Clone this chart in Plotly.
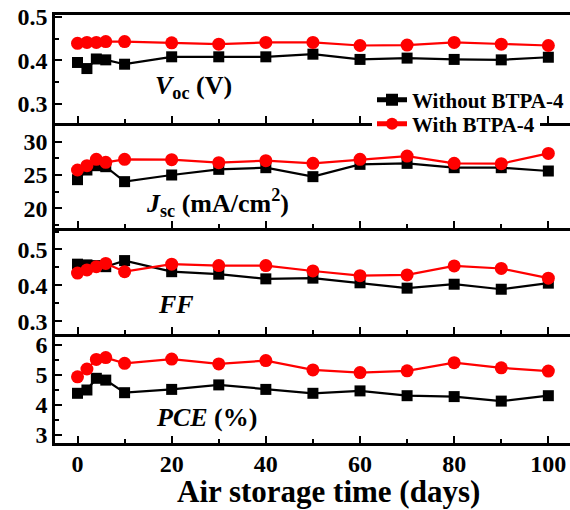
import plotly.graph_objects as go

days = [0, 2, 4, 6, 10, 20, 30, 40, 50, 60, 70, 80, 90, 100]

voc_without = [0.395, 0.381, 0.403, 0.401, 0.391, 0.408, 0.408, 0.408, 0.414, 0.402, 0.405, 0.402, 0.401, 0.407]
voc_with = [0.439, 0.441, 0.441, 0.443, 0.443, 0.440, 0.437, 0.441, 0.441, 0.434, 0.435, 0.441, 0.437, 0.434]

jsc_without = [24.3, 25.75, 26.4, 26.25, 24.0, 25.0, 25.85, 26.1, 24.75, 26.6, 26.75, 26.1, 26.1, 25.6]
jsc_with = [25.75, 26.4, 27.35, 26.9, 27.35, 27.3, 26.85, 27.15, 26.75, 27.35, 27.85, 26.75, 26.7, 28.25]

ff_without = [0.459, 0.457, 0.455, 0.452, 0.469, 0.438, 0.431, 0.418, 0.420, 0.407, 0.392, 0.403, 0.389, 0.406]
ff_with = [0.434, 0.443, 0.452, 0.461, 0.438, 0.459, 0.455, 0.455, 0.440, 0.427, 0.429, 0.454, 0.447, 0.420]

pce_without = [4.39, 4.50, 4.89, 4.83, 4.41, 4.52, 4.67, 4.52, 4.39, 4.47, 4.31, 4.28, 4.13, 4.31]
pce_with = [4.94, 5.20, 5.52, 5.58, 5.39, 5.53, 5.37, 5.48, 5.17, 5.08, 5.14, 5.41, 5.24, 5.13]

series_names = ["Without BTPA-4", "With BTPA-4"]
panel_labels = ["<i>V</i><sub>oc</sub> (V)", "<i>J</i><sub>sc</sub> (mA/cm<sup>2</sup>)", "<i>FF</i>", "<i>PCE</i> (%)"]
x_title = "Air storage time (days)"

FONT = "Liberation Serif"
W, H = 570, 510
ML, MR, MT, MB = 55, 0, 15, 67
plot_h = H - MT - MB
bounds_px = [15, 123, 228, 334, 443]

def dom(top_px, bot_px):
    return [(443 - bot_px) / plot_h, (443 - top_px) / plot_h]

def ypaper(px):
    return (443 - px) / plot_h

def xpaper(px):
    return (px - ML) / (W - ML - MR)

panels = [
    (voc_without, voc_with, [0.256, 0.504], 0.1, 0.05),
    (jsc_without, jsc_with, [17.03, 32.82], 5, 2.5),
    (ff_without, ff_with, [0.264, 0.560], 0.1, 0.05),
    (pce_without, pce_with, [2.733, 6.367], 1, 0.5),
]

fig = go.Figure()
layout = {}
for i, (bw, rw, yr, dt, mdt) in enumerate(panels):
    n = "" if i == 0 else str(i + 1)
    xa, ya = "x" + n, "y" + n
    fig.add_trace(go.Scatter(x=days, y=bw, xaxis=xa, yaxis=ya, mode="lines+markers",
                             name=series_names[0], legend="legend2", showlegend=(i == 0),
                             line=dict(color="black", width=2.2),
                             marker=dict(symbol="square", size=11, color="black")))
    fig.add_trace(go.Scatter(x=days, y=rw, xaxis=xa, yaxis=ya, mode="lines+markers",
                             name=series_names[1], legend="legend", showlegend=(i == 0),
                             line=dict(color="#ff0000", width=2.2),
                             marker=dict(symbol="circle", size=13, color="#ff0000")))
    last = (i == 3)
    layout["xaxis" + n] = dict(
        domain=[0, 1], anchor=ya, range=[-4.78, 104.6], dtick=20, tick0=0,
        showline=True, linecolor="black", linewidth=2.5, mirror=(i == 0),
        ticks="inside", ticklen=7, tickwidth=2, tickcolor="black",
        minor=dict(ticks="inside", dtick=10, ticklen=4, tickwidth=2, tickcolor="black"),
        showgrid=False, zeroline=False, showticklabels=last, automargin=False,
        ticklabelstandoff=-3,
        tickfont=dict(family=FONT, size=24, color="black", weight="bold"),
        **({} if i == 0 else {"matches": "x"}),
    )
    layout["yaxis" + n] = dict(
        domain=dom(bounds_px[i], bounds_px[i + 1]), anchor=xa, range=yr, dtick=dt,
        showline=True, linecolor="black", linewidth=2.5, mirror=False,
        ticks="inside", ticklen=7, tickwidth=2, tickcolor="black",
        minor=dict(ticks="inside", dtick=mdt, ticklen=4, tickwidth=2, tickcolor="black"),
        showgrid=False, zeroline=False, automargin=False,
        tickfont=dict(family=FONT, size=24, color="black", weight="bold"),
    )

label_pos = [(24.7, 0.339), (29.8, 20.8), (21, 0.345), (27.3, 3.57)]
annotations = []
for i, (lx, ly) in enumerate(label_pos):
    n = "" if i == 0 else str(i + 1)
    annotations.append(dict(x=lx, y=ly, xref="x" + n, yref="y" + n, text="<b>" + panel_labels[i] + "</b>",
                            showarrow=False, font=dict(family=FONT, size=26, color="black")))

# x-axis title as paper annotation (centre at pixel x=328, y=491)
annotations.append(dict(x=xpaper(328), y=ypaper(491), xref="paper", yref="paper", text="<b>" + x_title + "</b>",
                        showarrow=False, xanchor="center", yanchor="middle",
                        font=dict(family=FONT, size=31, color="black")))

legend_font = dict(family=FONT, size=21, color="black", weight="bold")
fig.update_layout(
    width=W, height=H,
    margin=dict(l=ML, r=MR, t=MT, b=MB, autoexpand=False),
    paper_bgcolor="white", plot_bgcolor="white",
    showlegend=True,
    # "With BTPA-4" (drawn first, white box hides the panel border behind it)
    legend=dict(x=xpaper(372), y=ypaper(124), xanchor="left", yanchor="middle",
                bgcolor="white", borderwidth=0, font=legend_font, itemsizing="constant", itemwidth=30),
    # "Without BTPA-4" (transparent so it does not cover the row below)
    legend2=dict(x=xpaper(372), y=ypaper(100), xanchor="left", yanchor="middle",
                 bgcolor="rgba(0,0,0,0)", borderwidth=0, font=legend_font, itemsizing="constant", itemwidth=30),
    annotations=annotations,
    **layout,
)

fig.write_html("out.html", config={"displayModeBar": False},
               post_script="document.body.style.margin='0px';document.body.style.overflow='hidden';")
